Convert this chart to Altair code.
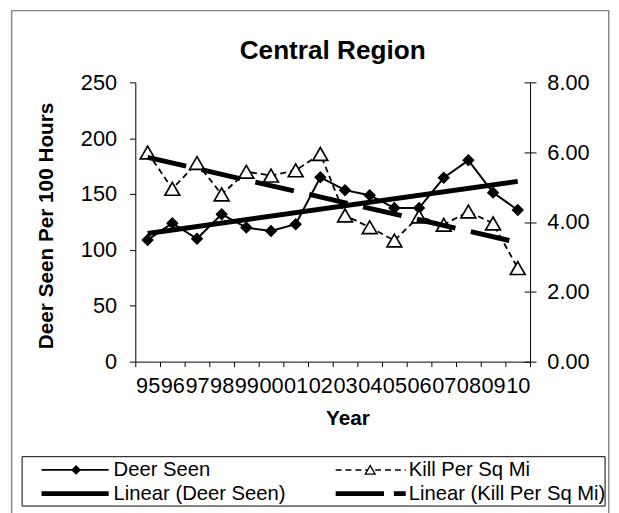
import json
import altair as alt
import pandas as pd

# ---------------- data ----------------
years = ["95", "96", "97", "98", "99", "00", "01", "02",
         "03", "04", "05", "06", "07", "08", "09", "10"]
deer_seen = [109, 124, 110, 132, 120, 117, 123, 165,
             153.5, 149, 137.5, 137.5, 164.6, 180.2, 151.3, 135.8]
kill_per_sq_mi = [5.99, 4.95, 5.69, 4.79, 5.44, 5.33, 5.48, 5.95,
                  4.19, 3.85, 3.47, 4.16, 3.92, 4.30, 3.96, 2.68]

chart_title = "Central Region"
left_title = "Deer Seen Per 100 Hours"
x_title = "Year"
legend_labels = ["Deer Seen", "Kill Per Sq Mi",
                 "Linear (Deer Seen)", "Linear (Kill Per Sq Mi)"]
left_ticks = [0, 50, 100, 150, 200, 250]
right_ticks = [0, 2, 4, 6, 8]

df = pd.DataFrame({"year": years, "deer": deer_seen, "kill": kill_per_sq_mi})

FONT = "Liberation Sans"
W, H = 400, 283
year_expr = json.dumps(years) + "[datum.idx - 1]"

# ---------------- shared encodings ----------------
x_enc = alt.X(
    "year:O",
    scale=alt.Scale(type="band", domain=years, paddingInner=0, paddingOuter=0),
    bandPosition=0.5,
    axis=alt.Axis(
        title=x_title, titleFont=FONT, titleFontSize=21, titleFontWeight="bold",
        titleColor="black", titleX=215, titleY=64, titleAlign="center",
        titleBaseline="alphabetic",
        labelFont=FONT, labelFontSize=22, labelAngle=0, labelPadding=9,
        labelColor="black", labelOverlap=False,
        tickBand="extent", tickSize=5, tickColor="black",
        domainColor="black", grid=False,
    ),
)

y_left = alt.Y(
    "deer:Q",
    scale=alt.Scale(domain=[0, 250], nice=False),
    axis=alt.Axis(
        orient="left", values=left_ticks, title=left_title,
        titleFont=FONT, titleFontSize=21, titleFontWeight="bold", titleColor="black",
        titleAngle=270, titleX=-84, titleY=145, titleAlign="center",
        titleBaseline="alphabetic",
        labelFont=FONT, labelFontSize=22, labelPadding=13, labelColor="black",
        tickSize=6, tickColor="black", domainColor="black", grid=False,
    ),
)

y_right = alt.Y(
    "kill:Q",
    scale=alt.Scale(domain=[0, 8], nice=False),
    axis=alt.Axis(
        orient="right", values=right_ticks, format=".2f", title=None,
        labelFont=FONT, labelFontSize=22, labelPadding=11, labelColor="black",
        tickSize=6, tickColor="black", domainColor="black", grid=False,
    ),
)

y_right_inner = alt.Y(
    "kill:Q",
    scale=alt.Scale(domain=[0, 8], nice=False),
    axis=alt.Axis(
        orient="right", offset=-6, values=right_ticks, title=None,
        labels=False, domain=False, tickSize=6, tickColor="black", grid=False,
    ),
)

base = alt.Chart(df)

# ---------------- Deer Seen (left axis) ----------------
deer_line = base.mark_line(color="black", strokeWidth=2).encode(x=x_enc, y=y_left)
deer_pts = base.mark_point(shape="diamond", size=160, filled=True,
                           color="black", opacity=1).encode(x=x_enc, y=y_left)
deer_trend = (
    base.transform_window(idx="row_number()")
    .transform_regression("idx", "deer")
    .transform_calculate(year=year_expr)
    .mark_line(color="black", strokeWidth=5)
    .encode(x=x_enc, y=y_left)
)
left_group = alt.layer(deer_line, deer_pts, deer_trend)

# ---------------- Kill Per Sq Mi (right axis) ----------------
kill_line = base.mark_line(color="black", strokeWidth=1.8,
                           strokeDash=[6, 4]).encode(x=x_enc, y=y_right)
kill_pts = base.mark_point(shape="triangle-up", size=225, filled=True,
                           fill="white", stroke="black", strokeWidth=1.7,
                           opacity=1).encode(x=x_enc, y=y_right)
kill_trend = (
    base.transform_window(idx="row_number()")
    .transform_regression("idx", "kill")
    .transform_calculate(year=year_expr)
    .mark_line(color="black", strokeWidth=5, strokeDash=[40, 16], strokeCap="butt")
    .encode(x=x_enc, y=y_right)
)
right_group = alt.layer(kill_line, kill_pts, kill_trend)

inner_ticks = base.mark_point(opacity=0).encode(x=x_enc, y=y_right_inner)

# ---------------- frame, title, legend ----------------
one = pd.DataFrame({"k": [0]})

frame = alt.Chart(one).mark_rect(fillOpacity=0, stroke="#868686", strokeWidth=1.5).encode(
    x=alt.value(-125.3), x2=alt.value(479.7), y=alt.value(-72.7), y2=alt.value(445))

title_mark = alt.Chart(pd.DataFrame({"t": [chart_title]})).mark_text(
    font=FONT, fontSize=26.5, fontWeight="bold", align="center",
    baseline="alphabetic", color="black").encode(
    text="t:N", x=alt.value(200), y=alt.value(-23.3))

legend_box = alt.Chart(one).mark_rect(fill="white", stroke="black", strokeWidth=1).encode(
    x=alt.value(-114.7), x2=alt.value(476), y=alt.value(379.3), y2=alt.value(429.3))

ROW1, ROW2 = 392.7, 416.7
C1A, C1B, C1M, C1T = -95, -27, -60, -22
C2A, C2B, C2M, C2T = 203, 274, 238, 277

leg_l1 = alt.Chart(one).mark_rule(color="black", strokeWidth=1.8).encode(
    x=alt.value(C1A), x2=alt.value(C1B), y=alt.value(ROW1))
leg_p1 = alt.Chart(one).mark_point(shape="diamond", size=100, filled=True,
                                   color="black", opacity=1).encode(
    x=alt.value(C1M), y=alt.value(ROW1))
leg_l2 = alt.Chart(one).mark_rule(color="black", strokeWidth=1.5, strokeDash=[6, 4]).encode(
    x=alt.value(C2A), x2=alt.value(C2B), y=alt.value(ROW1))
leg_p2 = alt.Chart(one).mark_point(shape="triangle-up", size=100, filled=True,
                                   fill="white", stroke="black", strokeWidth=1.3,
                                   opacity=1).encode(
    x=alt.value(C2M), y=alt.value(ROW1))
leg_l3 = alt.Chart(one).mark_rule(color="black", strokeWidth=5).encode(
    x=alt.value(C1A), x2=alt.value(C1B), y=alt.value(ROW2))
leg_l4 = alt.Chart(one).mark_rule(color="black", strokeWidth=5, strokeDash=[49, 10],
                                  strokeCap="butt").encode(
    x=alt.value(C2A), x2=alt.value(C2B), y=alt.value(ROW2))


def leg_text(label, x, y):
    return alt.Chart(pd.DataFrame({"t": [label]})).mark_text(
        font=FONT, fontSize=20.5, align="left", baseline="middle", color="black"
    ).encode(text="t:N", x=alt.value(x), y=alt.value(y))


leg_texts = [
    leg_text(legend_labels[0], C1T, ROW1),
    leg_text(legend_labels[1], C2T, ROW1),
    leg_text(legend_labels[2], C1T, ROW2),
    leg_text(legend_labels[3], C2T, ROW2),
]

chart = (
    alt.layer(frame, legend_box, left_group, right_group, inner_ticks, title_mark,
              leg_l1, leg_p1, leg_l2, leg_p2, leg_l3, leg_l4, *leg_texts)
    .resolve_scale(y="independent")
    .properties(
        width=W, height=H,
        autosize=alt.AutoSizeParams(type="none"),
        padding={"left": 129, "top": 72, "right": 82, "bottom": 150},
        background="white",
    )
    .configure(font=FONT)
    .configure_view(strokeWidth=0)
)

chart.save("out.html", embed_options={"renderer": "svg", "actions": False})
